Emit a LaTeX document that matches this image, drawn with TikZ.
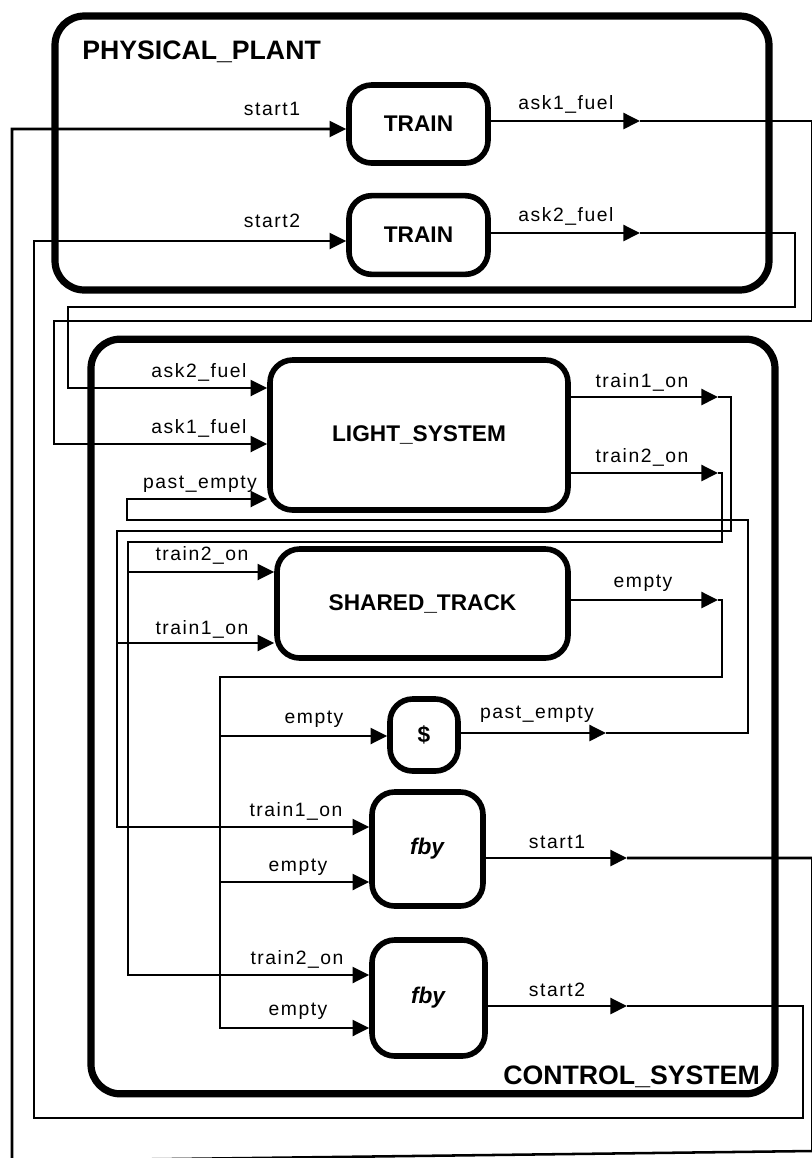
\documentclass[tikz,border=0pt]{standalone}
\usepackage{fontspec}
\setmainfont{Liberation Sans}
\newfontfamily\lblfont[LetterSpace=8]{Liberation Sans}
\usetikzlibrary{arrows.meta}
\begin{document}
\begin{tikzpicture}[x=0.75pt,y=-0.75pt,
  wire/.style={line width=1.9pt, line join=miter},
  arrowed/.style={-{Triangle[length=12.5pt,width=12pt]}},
  blk/.style={draw, line width=4.2pt, rounded corners=17pt, fill=white, inner sep=0pt, font=\fontsize{17}{20}\selectfont\bfseries},
  cont/.style={draw, line width=5.4pt, rounded corners=22pt, inner sep=0pt},
  lbl/.style={font=\lblfont\fontsize{14.5}{16}\selectfont, anchor=base, inner sep=0pt},
  title/.style={font=\fontsize{20}{24}\selectfont\bfseries, inner sep=0pt}]
\useasboundingbox (0,0) rectangle (812,1158);
\fill[white] (0,0) rectangle (812,1158);

% containers
\node[cont, minimum width=535.5pt, minimum height=205.5pt] (pp) at (412,153) {};
\node[cont, minimum width=513pt, minimum height=566pt] (cs) at (433,716.5) {};
\node[title, anchor=base west] (ppt) at (82,59) {PHYSICAL\_PLANT};
\node[title, anchor=base east] (cst) at (760,1084) {CONTROL\_SYSTEM};

% blocks
\node[blk, minimum width=104.25pt, minimum height=58.5pt] (train1) at (418.5,124) {TRAIN};
\node[blk, minimum width=104.25pt, minimum height=59pt] (train2) at (418.5,235) {TRAIN};
\node[blk, minimum width=223.5pt, minimum height=112.5pt] (light) at (419,435) {LIGHT\_SYSTEM};
\node[blk, minimum width=218.25pt, minimum height=81.75pt] (shared) at (422.5,603.5) {SHARED\_TRACK};
\node[blk, minimum width=51pt, minimum height=54pt] (dly) at (424,735) {\$};
\node[blk, minimum width=83.25pt, minimum height=85.5pt] (fby1) at (427.5,849) {\textit{fby}};
\node[blk, minimum width=84.75pt, minimum height=87pt] (fby2) at (428.5,998) {\textit{fby}};

% start1
\coordinate (s1t) at (627,858); \coordinate (s1l) at (12,129);
\draw[wire,arrowed] (fby1.east |- s1t) -- (s1t);
\draw[wire,arrowed] (s1t) -- (812.5,858) -- (812.5,1151) -- (12,1161) -- (s1l) -- (s1l -| train1.west);
% start2
\coordinate (s2t) at (627,1006); \coordinate (s2l) at (34,241);
\draw[wire,arrowed] (fby2.east |- s2t) -- (s2t);
\draw[wire,arrowed] (s2t) -- (803,1006) -- (803,1118) -- (34,1118) -- (s2l) -- (s2l -| train2.west);
% ask1_fuel
\coordinate (a1t) at (640,121); \coordinate (a1l) at (54,444);
\draw[wire,arrowed] (train1.east |- a1t) -- (a1t);
\draw[wire,arrowed] (a1t) -- (812,121) -- (812,321) -- (54,321) -- (a1l) -- (a1l -| light.west);
% ask2_fuel
\coordinate (a2t) at (640,233); \coordinate (a2l) at (68,388);
\draw[wire,arrowed] (train2.east |- a2t) -- (a2t);
\draw[wire,arrowed] (a2t) -- (795,233) -- (795,307) -- (68,307) -- (a2l) -- (a2l -| light.west);
% train1_on
\coordinate (t1t) at (718,397); \coordinate (t1f) at (117,827); \coordinate (t1s) at (117,643);
\draw[wire,arrowed] (light.east |- t1t) -- (t1t);
\draw[wire,arrowed] (t1t) -- (731,397) -- (731,531) -- (117,531) -- (t1f) -- (t1f -| fby1.west);
\draw[wire,arrowed] (t1s) -- (t1s -| shared.west);
% train2_on
\coordinate (t2t) at (718,473); \coordinate (t2f) at (128,975); \coordinate (t2s) at (128,572);
\draw[wire,arrowed] (light.east |- t2t) -- (t2t);
\draw[wire,arrowed] (t2t) -- (722,473) -- (722,542) -- (128,542) -- (t2f) -- (t2f -| fby2.west);
\draw[wire,arrowed] (t2s) -- (t2s -| shared.west);
% empty
\coordinate (et) at (718,600); \coordinate (ef2) at (220,1028); \coordinate (ed) at (220,736); \coordinate (ef1) at (220,882);
\draw[wire,arrowed] (shared.east |- et) -- (et);
\draw[wire,arrowed] (et) -- (722,600) -- (722,677) -- (220,677) -- (ef2) -- (ef2 -| fby2.west);
\draw[wire,arrowed] (ed) -- (ed -| dly.west);
\draw[wire,arrowed] (ef1) -- (ef1 -| fby1.west);
% past_empty
\coordinate (pt) at (606,733); \coordinate (pl) at (127,499);
\draw[wire,arrowed] (dly.east |- pt) -- (pt);
\draw[wire,arrowed] (pt) -- (748,733) -- (748,520) -- (127,520) -- (pl) -- (pl -| light.west);

% labels
\node[lbl] (L1) at (272,115) {start1};
\node[lbl] (L2) at (566,109) {ask1\_fuel};
\node[lbl] (L3) at (272,227) {start2};
\node[lbl] (L4) at (566,221) {ask2\_fuel};
\node[lbl] (L5) at (199,377) {ask2\_fuel};
\node[lbl] (L6) at (199,433) {ask1\_fuel};
\node[lbl] (L7) at (200,488) {past\_empty};
\node[lbl] (L8) at (642,387) {train1\_on};
\node[lbl] (L9) at (642,462) {train2\_on};
\node[lbl] (L10) at (202,560) {train2\_on};
\node[lbl] (L11) at (202,634) {train1\_on};
\node[lbl] (L12) at (643,587) {empty};
\node[lbl] (L13) at (314,723) {empty};
\node[lbl] (L14) at (537,718) {past\_empty};
\node[lbl] (L15) at (296,816) {train1\_on};
\node[lbl] (L16) at (298,871) {empty};
\node[lbl] (L17) at (557,848) {start1};
\node[lbl] (L18) at (297,964) {train2\_on};
\node[lbl] (L19) at (298,1015) {empty};
\node[lbl] (L20) at (557,996) {start2};
\end{tikzpicture}
\end{document}
